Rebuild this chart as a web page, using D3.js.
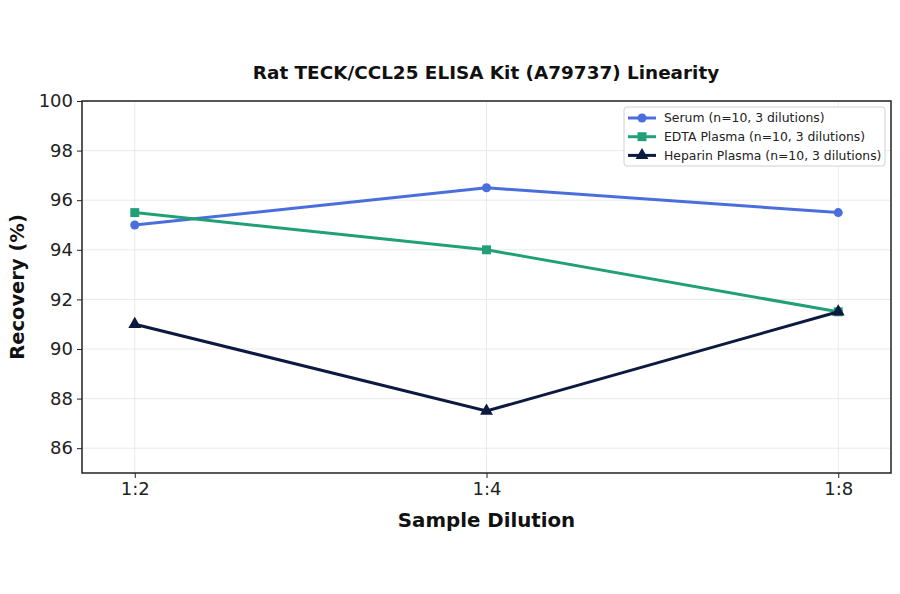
<!DOCTYPE html>
<html lang="en">
<head>
  <meta charset="UTF-8" />
  <title>Rat TECK/CCL25 ELISA Kit Linearity</title>
  <script src="https://d3js.org/d3.v7.min.js"></script>
  <style>
    body { margin: 0; background: #fff; font-family: 'DejaVu Sans', sans-serif; }
    .tick text { font-family: 'DejaVu Sans', sans-serif; font-size: 18px; fill: #222; }
    .grid line { stroke: #e4e4e4; stroke-width: 0.8; }
    .legend-item text { font-size: 12.4px; fill: #222; }
  </style>
</head>
<body>
  <div id="chart"></div>
  <script>
    // chart data
    const dilutions = ["1:2", "1:4", "1:8"];
    const serum = [95.0, 96.5, 95.5];
    const edtaPlasma = [95.5, 94.0, 91.5];
    const heparinPlasma = [91.0, 87.5, 91.5];
    const yTicks = [86, 88, 90, 92, 94, 96, 98, 100];

    const series = [
      { label: "Serum (n=10, 3 dilutions)", values: serum, color: "#4a6fdc", marker: "circle" },
      { label: "EDTA Plasma (n=10, 3 dilutions)", values: edtaPlasma, color: "#21a078", marker: "square" },
      { label: "Heparin Plasma (n=10, 3 dilutions)", values: heparinPlasma, color: "#0c1a40", marker: "triangle" }
    ];

    const svgWidth = 900, svgHeight = 594;
    const margin = { top: 101, right: 9, bottom: 121, left: 82 };
    const width = svgWidth - margin.left - margin.right;
    const height = svgHeight - margin.top - margin.bottom;

    const svg = d3.select("#chart").append("svg")
      .attr("width", svgWidth)
      .attr("height", svgHeight);

    const g = svg.append("g")
      .attr("transform", `translate(${margin.left},${margin.top})`);

    const x = d3.scaleLinear().domain([-0.15, 2.15]).range([0, width]);
    const y = d3.scaleLinear().domain([85, 100]).range([height, 0]);

    // grid
    g.append("g").attr("class", "grid")
      .selectAll("line.h").data(yTicks).enter().append("line")
      .attr("x1", 0).attr("x2", width)
      .attr("y1", d => y(d)).attr("y2", d => y(d));
    g.append("g").attr("class", "grid")
      .selectAll("line.v").data(dilutions).enter().append("line")
      .attr("x1", (d, i) => x(i)).attr("x2", (d, i) => x(i))
      .attr("y1", 0).attr("y2", height);

    // axes
    const xAxis = g.append("g")
      .attr("transform", `translate(0,${height})`)
      .call(d3.axisBottom(x).tickValues([0, 1, 2]).tickFormat(i => dilutions[i]).tickSize(5).tickPadding(4));
    const yAxis = g.append("g")
      .call(d3.axisLeft(y).tickValues(yTicks).tickSize(5).tickPadding(4));
    [xAxis, yAxis].forEach(a => {
      a.select(".domain").remove();
      a.selectAll(".tick line").attr("stroke", "#222").attr("stroke-width", 1);
    });

    // frame
    g.append("rect")
      .attr("width", width).attr("height", height)
      .attr("fill", "none").attr("stroke", "#222").attr("stroke-width", 1.5);

    const symbolType = { circle: d3.symbolCircle, square: d3.symbolSquare, triangle: d3.symbolTriangle };
    const symbolSize = { circle: 64, square: 80, triangle: 72 };

    const line = d3.line().x((d, i) => x(i)).y(d => y(d));

    series.forEach(s => {
      g.append("path")
        .datum(s.values)
        .attr("fill", "none")
        .attr("stroke", s.color)
        .attr("stroke-width", 3)
        .attr("d", line);
      g.selectAll(null).data(s.values).enter().append("path")
        .attr("transform", (d, i) => `translate(${x(i)},${y(d)})`)
        .attr("d", d3.symbol().type(symbolType[s.marker]).size(symbolSize[s.marker]))
        .attr("fill", s.color);
    });

    // legend
    const legend = g.append("g").attr("transform", `translate(${width - 267},6)`);
    legend.append("rect")
      .attr("width", 261).attr("height", 59).attr("rx", 3)
      .attr("fill", "#fff").attr("fill-opacity", 0.85)
      .attr("stroke", "#d0d0d0");
    const items = legend.selectAll(".legend-item").data(series).enter().append("g")
      .attr("class", "legend-item")
      .attr("transform", (d, i) => `translate(4,${11 + i * 18.7})`);
    items.append("line")
      .attr("x1", 0).attr("x2", 28)
      .attr("stroke", d => d.color).attr("stroke-width", 3);
    items.append("path")
      .attr("transform", "translate(14,0)")
      .attr("d", d => d3.symbol().type(symbolType[d.marker]).size(symbolSize[d.marker])())
      .attr("fill", d => d.color);
    items.append("text")
      .attr("x", 36).attr("dy", "0.35em")
      .text(d => d.label);

    // title and labels
    svg.append("text")
      .attr("x", margin.left + width / 2 - 0.5).attr("y", 79)
      .attr("text-anchor", "middle")
      .attr("font-size", "18.4px").attr("font-weight", "bold").attr("fill", "#111")
      .text("Rat TECK/CCL25 ELISA Kit (A79737) Linearity");
    svg.append("text")
      .attr("x", margin.left + x(1)).attr("y", 527)
      .attr("text-anchor", "middle")
      .attr("font-size", "19.8px").attr("font-weight", "bold").attr("fill", "#111")
      .text("Sample Dilution");
    svg.append("text")
      .attr("transform", `translate(24,${margin.top + height / 2}) rotate(-90)`)
      .attr("text-anchor", "middle")
      .attr("font-size", "19.5px").attr("font-weight", "bold").attr("fill", "#111")
      .text("Recovery (%)");
  </script>
</body>
</html>
